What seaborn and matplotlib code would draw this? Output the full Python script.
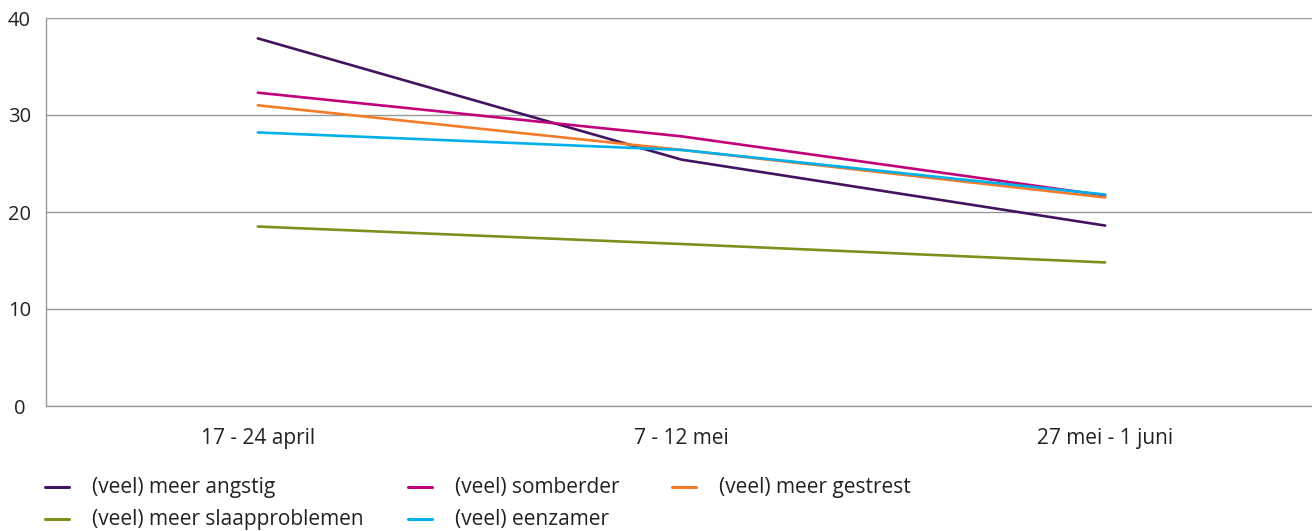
import pandas as pd
import matplotlib.pyplot as plt
import seaborn as sns
from matplotlib.lines import Line2D

# Data (percentages)
periods = ["17 - 24 april", "7 - 12 mei", "27 mei - 1 juni"]
angstig = [37.9, 25.4, 18.6]
somberder = [32.3, 27.8, 21.7]
gestrest = [31.0, 26.4, 21.5]
eenzamer = [28.2, 26.4, 21.8]
slaap = [18.5, 16.7, 14.8]

series = {
    "(veel) meer angstig": angstig,
    "(veel) somberder": somberder,
    "(veel) meer gestrest": gestrest,
    "(veel) meer slaapproblemen": slaap,
    "(veel) eenzamer": eenzamer,
}
colors = {
    "(veel) meer angstig": "#42145f",
    "(veel) somberder": "#c1007a",
    "(veel) meer gestrest": "#f47b2a",
    "(veel) meer slaapproblemen": "#7f8f1e",
    "(veel) eenzamer": "#00b0ea",
}

rows = []
for name, vals in series.items():
    for p, v in zip(periods, vals):
        rows.append({"periode": p, "waarde": v, "reeks": name})
df = pd.DataFrame(rows)

sns.set_style("white")
plt.rcParams['font.family'] = ['Open Sans', 'DejaVu Sans']

W, H = 1312, 531
fig = plt.figure(figsize=(13.12, 5.31), dpi=100)
ax = fig.add_axes([46 / W, 125 / H, 1271 / W, 388 / H])

sns.lineplot(data=df, x="periode", y="waarde", hue="reeks", palette=colors,
             linewidth=1.9, legend=False, ax=ax, sort=False)

ax.set_xlim(-0.5, 2.5)
ax.set_ylim(0, 40)
ax.set_yticks([0, 10, 20, 30, 40])
ax.yaxis.grid(True, color="#9a9a9a", linewidth=1)
ax.set_axisbelow(True)
ax.tick_params(axis='y', length=0, pad=19, labelsize=14.5, labelcolor="#222222")
for lab in ax.get_yticklabels():
    lab.set_ha('center')

# major ticks at category boundaries, labels on minor ticks at centres
ax.set_xticks([-0.5, 0.5, 1.5])
ax.set_xticklabels([])
ax.set_xticks([0, 1, 2], minor=True)
ax.set_xticklabels(periods, minor=True)
ax.tick_params(axis='x', which='major', direction='out', length=8, color="#9a9a9a", width=1)
ax.tick_params(axis='x', which='minor', length=0, pad=16, labelsize=15, labelcolor="#222222")
ax.set_xlabel("")
ax.set_ylabel("")

for pos in ['right', 'top']:
    ax.spines[pos].set_visible(False)
for pos in ['left', 'bottom']:
    ax.spines[pos].set_color("#9a9a9a")
    ax.spines[pos].set_linewidth(1)

# legend: manual layout in three columns, two rows
order = ["(veel) meer angstig", "(veel) somberder", "(veel) meer gestrest",
         "(veel) meer slaapproblemen", "(veel) eenzamer"]
col_x = [45, 408, 672]
row_y = [487, 519]
for i, name in enumerate(order):
    cx = col_x[i % 3]
    cy = row_y[i // 3]
    fig.add_artist(Line2D([cx / W, (cx + 24) / W], [1 - cy / H, 1 - cy / H],
                          color=colors[name], linewidth=2.2, transform=fig.transFigure))
    fig.text((cx + 47) / W, 1 - cy / H, name, fontsize=15, color="#222222",
             va='center', ha='left')

plt.savefig("out.png", dpi=100)
